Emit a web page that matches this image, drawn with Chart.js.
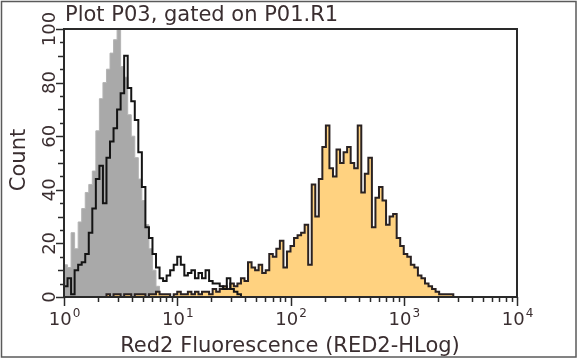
<!DOCTYPE html>
<html>
<head>
<meta charset="utf-8">
<script src="https://cdn.jsdelivr.net/npm/chart.js@4.4.0/dist/chart.umd.min.js"></script>
<style>
  html, body { margin: 0; padding: 0; background: #fff; }
  #wrap { width: 583px; height: 360px; position: relative; }
</style>
</head>
<body>
<div id="wrap"><canvas id="histChart"></canvas></div>
<script>
  // RED2-HLog axis: 4 decades, 32 channels per decade
  const channelsPerDecade = 32;
  const decadeExponents = ["0", "1", "2", "3", "4"];
  const countTicks = [0, 20, 40, 60, 80, 100];

  // gray filled histogram (control), starts at channel 0
  const grayCounts = [
    5, 12, 11, 24, 18, 28, 33, 39, 42, 47, 62, 74, 80, 85, 91, 96, 100, 86, 82,
    68, 60, 52, 44, 36, 27, 18, 10, 4, 0,
  ];
  // black outline histogram, starts at channel 0
  const blackCounts = [
    5, 4, 7, 1, 10, 12, 13, 16, 24, 33, 44, 49, 35, 52, 58, 63, 70, 76, 90, 78,
    73, 66, 54, 41, 26, 22, 16, 11, 7, 6, 8, 10, 12, 15, 12, 8, 9, 10, 7, 9, 7,
    10, 6, 5, 5, 4, 3, 7, 3, 2, 1, 0,
  ];
  // orange filled histogram (stained)
  const orangeFirstChannel = 12;
  const orangeCounts = [
    0, 1, 0, 1, 1, 0, 1, 1, 0, 1, 1, 1, 0, 1, 1, 2, 1, 1,
    1, 0, 1, 2, 1, 1, 2, 1, 2, 1, 2, 2, 1, 3, 2, 3, 4, 3,
    5, 4, 5, 7, 6, 13, 11, 10, 12, 9, 10, 16, 15, 18, 21, 11, 17, 19, 22, 23,
    24, 27, 12, 42, 30, 44, 56, 64, 48, 45, 55, 50, 54, 56, 50, 48, 64, 39, 46,
    52, 26, 37, 41, 36, 27, 30, 31, 22, 19, 16, 15, 12, 11, 8, 7, 5, 4, 3, 2, 1,
    1, 1, 1, 0,
  ];

  function toPoints(values, firstChannel) {
    return values.map((v, i) => ({ x: firstChannel + i, y: v }));
  }

  const textColor = "#3a2e30";
  const fontFamily = "'DejaVu Sans', Verdana, sans-serif";

  // frame, ticks and texts drawn from the chart's own scales
  const axisPlugin = {
    id: "axisPlugin",
    afterDraw(chart) {
      const { ctx, chartArea: a, scales } = chart;
      const xs = scales.x;
      const ys = scales.y;
      ctx.save();

      // outer frame
      ctx.strokeStyle = "#5a5a5a";
      ctx.lineWidth = 1.5;
      ctx.strokeRect(1.5, 1.5, 574.5, 355.5);

      // plot frame
      ctx.strokeStyle = "#2a2a2a";
      ctx.lineWidth = 2;
      ctx.strokeRect(a.left, a.top, a.right - a.left, a.bottom - a.top);

      // y ticks
      ctx.lineWidth = 1.5;
      for (let v = 0; v <= 100; v += 5) {
        const py = Math.round(ys.getPixelForValue(v)) + 0.5;
        const len = v % 20 === 0 ? 8 : v % 10 === 0 ? 6 : 4;
        ctx.beginPath();
        ctx.moveTo(a.left, py);
        ctx.lineTo(a.left - len, py);
        ctx.stroke();
      }

      // x ticks (log minor ticks)
      for (let d = 0; d < decadeExponents.length; d++) {
        for (let k = 1; k <= 9; k++) {
          if (d === decadeExponents.length - 1 && k > 1) break;
          const ch = channelsPerDecade * (d + Math.log10(k));
          const px = Math.round(xs.getPixelForValue(ch)) + 0.5;
          const len = k === 1 ? 9 : 5;
          ctx.beginPath();
          ctx.moveTo(px, a.bottom);
          ctx.lineTo(px, a.bottom + len);
          ctx.stroke();
        }
      }

      ctx.fillStyle = textColor;

      // y tick labels, rotated
      ctx.font = "18px " + fontFamily;
      ctx.textAlign = "center";
      ctx.textBaseline = "alphabetic";
      countTicks.forEach((v) => {
        ctx.save();
        ctx.translate(a.left - 9, ys.getPixelForValue(v));
        ctx.rotate(-Math.PI / 2);
        ctx.fillText(String(v), 0, 0);
        ctx.restore();
      });

      // x tick labels 10^n
      ctx.textAlign = "left";
      decadeExponents.forEach((e, d) => {
        const px = xs.getPixelForValue(d * channelsPerDecade);
        ctx.font = "18px " + fontFamily;
        const w1 = ctx.measureText("10").width;
        ctx.font = "12px " + fontFamily;
        const w2 = ctx.measureText(e).width;
        const x0 = px - (w1 + w2) / 2;
        ctx.font = "18px " + fontFamily;
        ctx.fillText("10", x0, 325);
        ctx.font = "12px " + fontFamily;
        ctx.fillText(e, x0 + w1 + 1, 317);
      });

      // titles
      ctx.font = "21px " + fontFamily;
      ctx.textAlign = "left";
      ctx.fillText("Plot P03, gated on P01.R1", 65, 21);

      ctx.textAlign = "center";
      ctx.fillText("Red2 Fluorescence (RED2-HLog)", 290, 352);

      ctx.save();
      ctx.translate(25, 160);
      ctx.rotate(-Math.PI / 2);
      ctx.fillText("Count", 0, 0);
      ctx.restore();

      ctx.restore();
    },
  };

  const histChart = document.getElementById("histChart").getContext("2d");

  new Chart(histChart, {
    type: "line",
    data: {
      datasets: [
        {
          label: "Control",
          data: toPoints(grayCounts, 0),
          stepped: "after",
          fill: "origin",
          backgroundColor: "#a9a9a9",
          borderColor: "#b4b4b4",
          borderWidth: 1,
          pointRadius: 0,
          order: 3,
        },
        {
          label: "Stained",
          data: toPoints(orangeCounts, orangeFirstChannel),
          stepped: "after",
          fill: "origin",
          backgroundColor: "#ffd280",
          borderColor: "#2a2222",
          borderWidth: 2,
          pointRadius: 0,
          order: 2,
        },
        {
          label: "Isotype",
          data: toPoints(blackCounts, 0),
          stepped: "after",
          fill: false,
          borderColor: "#141414",
          borderWidth: 2,
          pointRadius: 0,
          order: 1,
        },
      ],
    },
    options: {
      responsive: true,
      maintainAspectRatio: false,
      animation: false,
      layout: {
        padding: { left: 64, top: 29, right: 66, bottom: 63 },
      },
      plugins: {
        legend: { display: false },
        tooltip: { enabled: false },
      },
      scales: {
        x: { type: "linear", min: 0, max: 128, display: false },
        y: { min: 0, max: 100, display: false },
      },
    },
    plugins: [axisPlugin],
  });
</script>
</body>
</html>
